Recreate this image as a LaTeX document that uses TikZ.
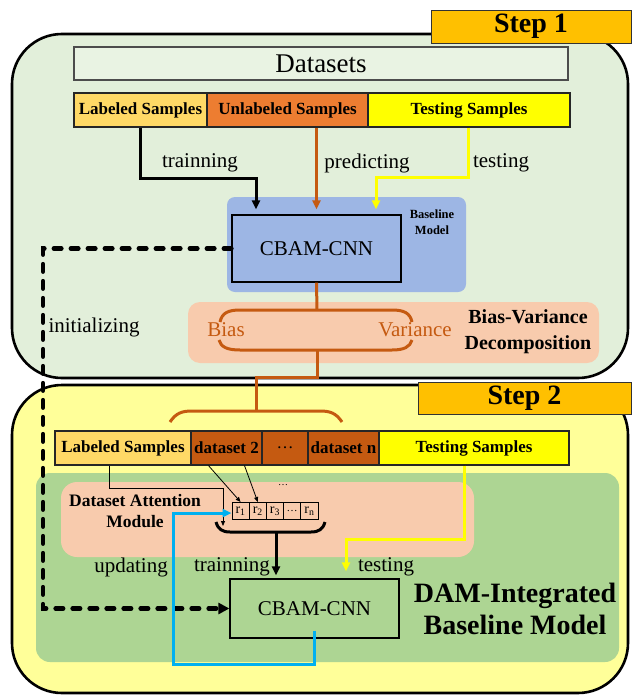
\documentclass[tikz,border=0pt]{standalone}
\usepackage{fontspec}
\setmainfont{Liberation Serif}
\usetikzlibrary{arrows.meta,calc}
\definecolor{bgone}{HTML}{E2EFDA}
\definecolor{bgtwo}{HTML}{FFFF99}
\definecolor{tagc}{HTML}{FFC000}
\definecolor{labc}{HTML}{FFD966}
\definecolor{unlc}{HTML}{ED7D31}
\definecolor{tstc}{HTML}{FFFF00}
\definecolor{bluec}{HTML}{9DB6E4}
\definecolor{peachc}{HTML}{F8CBAD}
\definecolor{orc}{HTML}{C55A11}
\definecolor{greenc}{HTML}{ADD593}
\definecolor{cyanc}{HTML}{00B0F0}
\tikzset{
  frame/.style={draw=black, line width=2.6pt, rounded corners=50pt, inner sep=0pt},
  tagbox/.style={draw=black!80, line width=1pt, fill=tagc, inner sep=0pt, font=\fontsize{28}{30}\selectfont\bfseries},
  cell/.style={draw=black!85, line width=1.2pt, inner sep=0pt, minimum height=34pt, font=\fontsize{17}{19}\selectfont\bfseries},
  lbl/.style={inner sep=0pt, font=\fontsize{21}{24}\selectfont},
  rcell/.style={draw=black, line width=1pt, inner sep=0pt, minimum width=17.2pt, minimum height=17pt, font=\fontsize{14}{14}\selectfont},
  conn/.style={line width=3pt},
  tip/.style={-{Triangle[length=9pt,width=8pt]}},
  smalltip/.style={-{Triangle[length=5pt,width=4pt]}},
}
\begin{document}
\begin{tikzpicture}[x=1pt,y=-1pt]
\useasboundingbox (0,0) rectangle (633,696);
% ---------- Step 1 ----------
\node[frame, fill=bgone, minimum width=616pt, minimum height=344pt] (s1) at (320,206) {};
\node[tagbox, minimum width=200pt, minimum height=33pt] (t1) at (531,26.5) {Step 1};
\node[draw=black!70, line width=1.5pt, fill=white!25!bgone, inner sep=0pt, minimum width=494pt, minimum height=33pt, font=\fontsize{27}{30}\selectfont] (ds) at (321,63.5) {Datasets};
\node[cell, fill=labc, minimum width=133pt] (lab1) at (140.5,110) {Labeled Samples};
\node[cell, fill=unlc, minimum width=161pt] (unl1) at (287.5,110) {Unlabeled Samples};
\node[cell, fill=tstc, minimum width=202pt] (tst1) at (469,110) {Testing Samples};
\node[fill=bluec, rounded corners=8pt, inner sep=0pt, minimum width=239pt, minimum height=95pt] (bm) at (346.5,244.5) {};
\node[draw=black, line width=1.3pt, fill=bluec, lbl, minimum width=169pt, minimum height=67pt] (c1) at (316.5,248.5) {CBAM-CNN};
\node[inner sep=0pt, align=center, font=\fontsize{12.5}{16}\selectfont\bfseries] (bml) at (432,222) {Baseline\\Model};
\node[fill=peachc, rounded corners=12pt, inner sep=0pt, minimum width=411pt, minimum height=61pt] (bv) at (393.5,332.5) {};
\node[lbl, text=orc] (bias) at (226,330) {Bias};
\node[lbl, text=orc] (var) at (415,330) {Variance};
\node[inner sep=0pt, align=center, font=\fontsize{20}{26}\selectfont\bfseries] (bvd) at (528,332) {Bias-Variance\\Decomposition};
\node[lbl] (l1a) at (200,163) {trainning};
\node[lbl] (l1b) at (367,163) {predicting};
\node[lbl] (l1c) at (501,163) {testing};
\node[lbl] (linit) at (94,327) {initializing};
% ---------- Step 2 ----------
\node[frame, fill=bgtwo, minimum width=616pt, minimum height=308pt] (s2) at (320,539) {};
\node[tagbox, minimum width=213pt, minimum height=32pt] (t2) at (524.5,398) {Step 2};
\node[fill=greenc, rounded corners=14pt, inner sep=0pt, minimum width=583pt, minimum height=189pt] (gr) at (327.5,567.5) {};
\node[fill=peachc, rounded corners=16pt, inner sep=0pt, minimum width=413pt, minimum height=75pt] (dam) at (267.5,519.5) {};
\node[inner sep=0pt, align=center, font=\fontsize{17.5}{21}\selectfont\bfseries] (damt) at (135,511) {Dataset Attention\\Module};
\node[cell, fill=labc, minimum width=136pt] (lab2) at (123,448) {Labeled Samples};
\node[cell, fill=orc, minimum width=71pt] (ds2) at (226.5,448) {dataset 2};
\node[cell, fill=orc, minimum width=46pt, font=\fontsize{17}{19}\selectfont] (dots) at (285,448) {…};
\node[cell, fill=orc, minimum width=71pt] (dsn) at (343.5,448) {dataset n};
\node[cell, fill=tstc, minimum width=190pt] (tst2) at (474,448) {Testing Samples};
\node[inner sep=0pt, font=\fontsize{10}{11}\selectfont] (sdots) at (283,485) {…};
\node[rcell] (r1) at (240.6,511) {r\textsubscript{1}};
\node[rcell] (r2) at (257.8,511) {r\textsubscript{2}};
\node[rcell] (r3) at (275.0,511) {r\textsubscript{3}};
\node[rcell, font=\fontsize{11}{12}\selectfont] (r4) at (292.2,511) {…};
\node[rcell] (r5) at (309.4,511) {r\textsubscript{n}};
\node[draw=black, line width=1.3pt, fill=greenc, lbl, minimum width=169pt, minimum height=59pt] (c2) at (314.5,608.5) {CBAM-CNN};
\node[lbl] (l2a) at (131,567) {updating};
\node[lbl] (l2b) at (232,567) {trainning};
\node[lbl] (l2c) at (386,567) {testing};
\node[inner sep=0pt, align=center, font=\fontsize{28}{32}\selectfont\bfseries] (dit) at (515,609) {DAM-Integrated\\Baseline Model};
% ---------- coordinates ----------
\coordinate (bvt) at (317,310);
\coordinate (bvb) at (317,350);
\coordinate (s2t) at (256,411);
\coordinate (labin) at (223,526);
\coordinate (brc) at (276,532);
% ---------- connectors step 1 ----------
\draw[conn, tip, shorten >=5pt] (lab1.south) -- (lab1.south |- 0,178) -| ([xshift=-60.5pt]c1.north);
\draw[conn, tip, orc, shorten >=5pt] (unl1.south -| c1.north) -- (c1.north);
\draw[conn, tip, tstc, shorten >=5pt] ([xshift=-1pt]tst1.south) -- ++(0,50) -| ([xshift=59.5pt]c1.north);
\draw[conn, orc] (c1.south) -- (bvt);
\draw[conn, orc] (220,322) .. controls (222,313) and (228,310) .. (240,310) -- (bvt) -- (392,310) .. controls (404,310) and (410,313) .. (412,322);
\draw[conn, orc] (219,340) .. controls (221,347) and (227,350) .. (240,350) -- (bvb) -- (392,350) .. controls (404,350) and (410,347) .. (412,340);
\draw[conn, orc] (bvb) -- ++(0,27) -| (s2t);
\draw[conn, orc] (170,422) .. controls (176,413) and (182,411) .. (192,411) -- (s2t) -- (320,411) .. controls (330,411) and (336,413) .. (342,422);
\draw[line width=4.5pt, line cap=round, dash pattern=on 7.5pt off 9.5pt, -{Triangle[length=11pt,width=11pt]}] (c1.west) -- (c1.west -| 43,0) |- (c2.west);
% ---------- connectors step 2 ----------
\draw[line width=0.8pt, smalltip] ([xshift=-18pt]ds2.south) -- (r1.north);
\draw[line width=0.8pt, smalltip] ([xshift=18pt]ds2.south) -- (r2.north);
\draw[line width=0.8pt, smalltip] ([xshift=-14pt]lab2.south) -- ++(0,23) -| (labin);
\draw[line width=3pt] (216,522) .. controls (218,529) and (222,532) .. (230,532) -- (brc) -- (311,532) .. controls (319,532) and (323,529) .. (325,522);
\draw[conn, tip, shorten >=3pt] (brc) -- (brc |- c2.north);
\draw[conn, tip, tstc, shorten >=7pt] ([xshift=-10pt]tst2.south) -- ++(0,74) -| ([xshift=31.5pt]c2.north);
\draw[conn, tip, cyanc] ([yshift=8pt]c2.south) -- ++(0,34) -| ($(r1.west)+(-58,2)$) -- ($(r1.west)+(0,2)$);
\end{tikzpicture}
\end{document}
